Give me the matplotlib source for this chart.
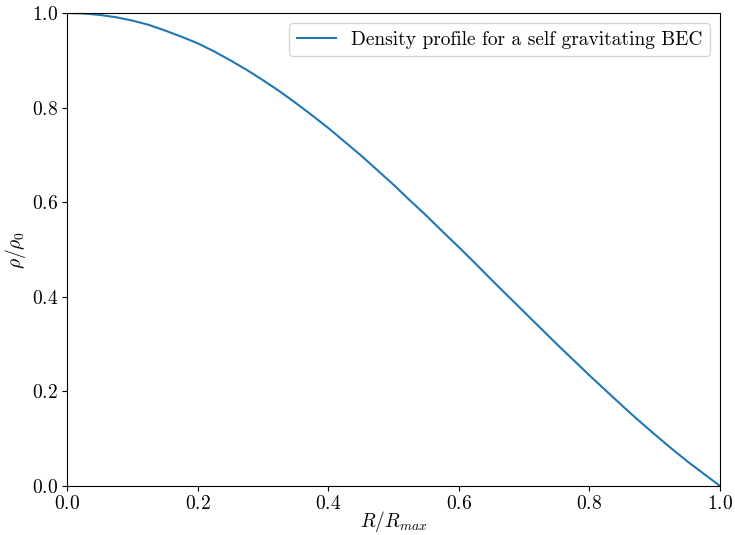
import matplotlib.pyplot as plt

plt.rcParams['font.family'] = 'serif'
plt.rcParams['font.serif'] = ['cmr10']
plt.rcParams['mathtext.fontset'] = 'cm'
plt.rcParams['axes.formatter.use_mathtext'] = True

# values
r = [0.0, 0.025, 0.05, 0.075, 0.1, 0.125, 0.15, 0.175, 0.2, 0.225, 0.25,
     0.275, 0.3, 0.325, 0.35, 0.375, 0.4, 0.425, 0.45, 0.475, 0.5,
     0.525, 0.55, 0.575, 0.6, 0.625, 0.65, 0.675, 0.7, 0.725, 0.75,
     0.775, 0.8, 0.825, 0.85, 0.875, 0.9, 0.925, 0.95, 0.975, 1.0]
rho = [1.0, 0.999, 0.996, 0.991, 0.984, 0.975, 0.963, 0.950, 0.936, 0.919, 0.900,
       0.880, 0.858, 0.835, 0.810, 0.784, 0.757, 0.728, 0.699, 0.668, 0.637,
       0.604, 0.572, 0.538, 0.505, 0.471, 0.436, 0.402, 0.368, 0.334, 0.300,
       0.267, 0.234, 0.202, 0.170, 0.139, 0.109, 0.080, 0.052, 0.026, 0.0]

fig = plt.figure(figsize=(7.35, 5.35), dpi=100)
ax = fig.add_axes([0.0912, 0.0916, 0.8884, 0.8841])
ax.plot(r, rho, color='#1f77b4', linewidth=1.5,
        label='Density profile for a self gravitating BEC')
ax.set_xlim(0, 1)
ax.set_ylim(0, 1)
ax.set_xlabel(r'$R/R_{max}$', fontsize=14, labelpad=-3)
ax.set_ylabel(r'$\rho/\rho_0$', fontsize=14, labelpad=3)
ax.tick_params(labelsize=14, pad=3)
ax.legend(loc='upper right', fontsize=14)

fig.savefig('out.png', dpi=100)
